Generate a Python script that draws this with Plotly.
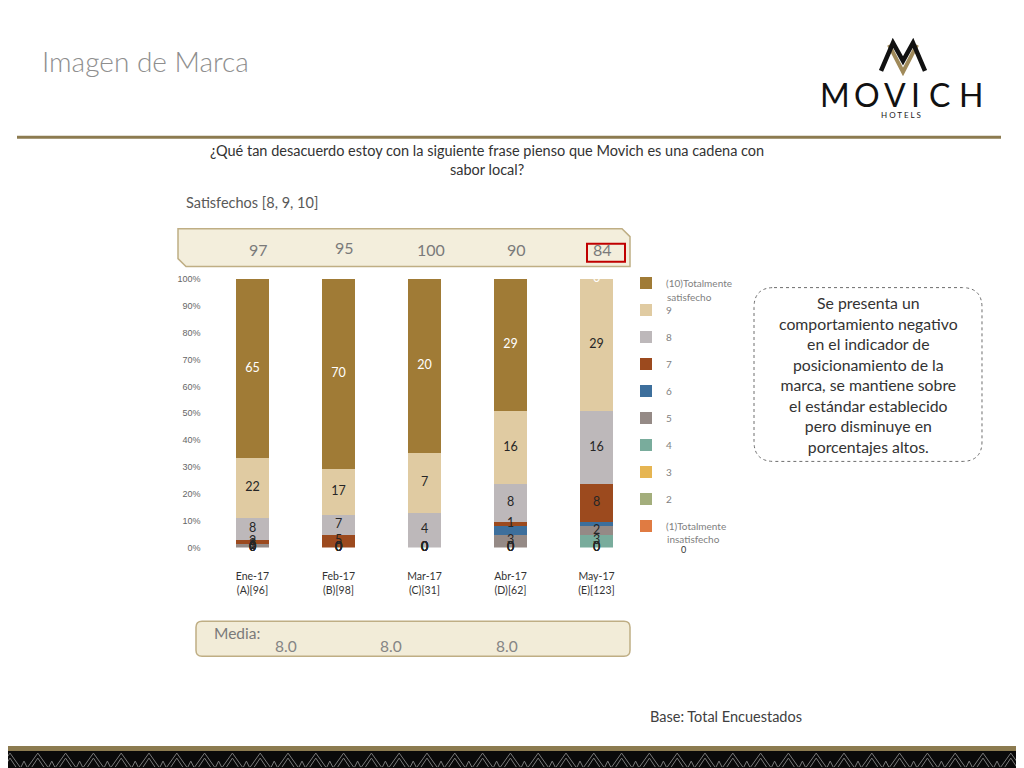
import plotly.graph_objects as go

# page body has an 8px margin; the photographed page is also slightly
# compressed vertically, so slide coordinates are mapped accordingly
OFF = 8
W, H = 1024 - OFF, 765


def px(x):
    return (x - OFF) / W


def py(y):
    return 1 - ((y - 4.2) / 0.988 - OFF) / H


# ---------------- data ----------------
months = ["Ene-17<br>(A)[96]", "Feb-17<br>(B)[98]", "Mar-17<br>(C)[31]",
          "Abr-17<br>(D)[62]", "May-17<br>(E)[123]"]

level_names = ["(1)Totalmente", "2", "3", "4", "5", "6", "7", "8", "9", "(10)Totalmente"]
level_name_2nd_line = {0: "insatisfecho", 9: "satisfecho"}
level_colors = ["#E07B42", "#A3AE7C", "#E6B552", "#79AC9C", "#958A86", "#3D6F9C",
                "#9C4A1E", "#BDB8BA", "#E0CBA2", "#A07B36"]

# segment heights (share of bar, %) bottom (1) to top (10)
lvl1 = [0, 0, 0, 0, 0]
lvl2 = [0, 0, 0, 0, 0]
lvl3 = [0, 0, 0, 0, 0]
lvl4 = [0, 0, 0, 0, 4.8]
lvl5 = [1.2, 0, 0, 4.8, 3.2]
lvl6 = [0, 0, 0, 3.2, 1.6]
lvl7 = [1.7, 4.8, 0, 1.6, 14.1]
lvl8 = [8.0, 7.2, 12.9, 14.1, 27.0]
lvl9 = [22.4, 17.3, 22.3, 27.0, 49.2]
lvl10 = [66.5, 70.6, 64.8, 49.2, 0]
heights = [lvl1, lvl2, lvl3, lvl4, lvl5, lvl6, lvl7, lvl8, lvl9, lvl10]

# data labels printed on the segments
lab1 = ["0", "0", "0", "0", "0"]
lab2 = ["0", "0", "0", "0", "0"]
lab3 = ["0", "0", "0", "0", "0"]
lab4 = ["0", "0", "0", "0", "3"]
lab5 = ["1", "0", "0", "3", "2"]
lab6 = ["3", "0", "0", "", ""]
lab7 = ["2", "5", "0", "1", "8"]
lab8 = ["8", "7", "4", "8", "16"]
lab9 = ["22", "17", "7", "16", "29"]
lab10 = ["65", "70", "20", "29", "0"]
labels = [lab1, lab2, lab3, lab4, lab5, lab6, lab7, lab8, lab9, lab10]

satisfechos = ["97", "95", "100", "90", "84"]
media = ["8.0", "8.0", "8.0"]
y_ticks = [0, 10, 20, 30, 40, 50, 60, 70, 80, 90, 100]
y_ticktext = ["%d%%" % v for v in y_ticks]

callout = ("Se presenta un<br>comportamiento negativo<br>en el indicador de<br>"
           "posicionamiento de la<br>marca, se mantiene sobre<br>el estándar establecido<br>"
           "pero disminuye en<br>porcentajes altos.")

FONT = "Lato"

fig = go.Figure()

for i in range(10):
    fig.add_trace(go.Bar(
        x=months, y=heights[i], name=level_names[i],
        marker=dict(color=level_colors[i], line=dict(width=0)),
        legendgroup="g%d" % i, legendrank=10 - i, textposition="none", hoverinfo="skip"))

# labels at segment midpoints
tx, ty, tt, tc = [], [], [], []
for m in range(len(months)):
    base = 0
    for i in range(10):
        h = heights[i][m]
        if labels[i][m] != "":
            tx.append(months[m])
            ty.append(base + h / 2)
            tt.append(labels[i][m])
            tc.append("#FFFFFF" if i == 9 else "#262626")
        base += h
fig.add_trace(go.Scatter(x=tx, y=ty, text=tt, mode="text", showlegend=False,
                         textfont=dict(family=FONT, size=12.5, color=tc),
                         cliponaxis=False, hoverinfo="skip"))

shapes = []
ann = []

# gold header rule
shapes.append(dict(type="line", xref="paper", yref="paper", x0=px(17), x1=px(1001), y0=py(136.5),
                   y1=py(136.5), line=dict(color="#8C7B50", width=3)))
# bottom gold line and black band
shapes.append(dict(type="rect", xref="paper", yref="paper", x0=0, x1=1, y0=py(751), y1=py(746),
                   fillcolor="#8C7B50", line=dict(width=0), layer="above"))
shapes.append(dict(type="rect", xref="paper", yref="paper", x0=0, x1=1, y0=0, y1=py(751),
                   fillcolor="#0A0A0A", line=dict(width=0), layer="above"))
p = ""
for k in range(0, 38):
    x0 = k * 27.8
    p += "M%.5f,%.5f L%.5f,%.5f L%.5f,%.5f " % (px(x0), py(767), px(x0 + 10), py(753), px(x0 + 20), py(767))
    p += "M%.5f,%.5f L%.5f,%.5f L%.5f,%.5f " % (px(x0 + 4), py(767), px(x0 + 10), py(758), px(x0 + 16), py(767))
    p += "M%.5f,%.5f L%.5f,%.5f L%.5f,%.5f " % (px(x0 + 21), py(767), px(x0 + 24), py(761), px(x0 + 27), py(767))
shapes.append(dict(type="path", xref="paper", yref="paper", path=p,
                   line=dict(color="#7A7A7A", width=1), layer="above"))

# top banner (Satisfechos values)
bp = "M%f,%f L%f,%f L%f,%f L%f,%f L%f,%f L%f,%f Z" % (
    px(178), py(228), px(622), py(228), px(630), py(236), px(630), py(266),
    px(186), py(266), px(178), py(258))
shapes.append(dict(type="path", xref="paper", yref="paper", path=bp, fillcolor="#F3EEDC",
                   line=dict(color="#BFAE84", width=1.5), layer="below"))
# red highlight box
shapes.append(dict(type="rect", xref="paper", yref="paper", x0=px(587), x1=px(625), y0=py(261),
                   y1=py(243), line=dict(color="#C00000", width=2)))


def rounded(x0, y0, x1, y1, r):
    return ("M%f,%f L%f,%f Q%f,%f %f,%f L%f,%f Q%f,%f %f,%f L%f,%f Q%f,%f %f,%f L%f,%f Q%f,%f %f,%f Z" % (
        px(x0 + r), py(y0), px(x1 - r), py(y0), px(x1), py(y0), px(x1), py(y0 + r),
        px(x1), py(y1 - r), px(x1), py(y1), px(x1 - r), py(y1),
        px(x0 + r), py(y1), px(x0), py(y1), px(x0), py(y1 - r),
        px(x0), py(y0 + r), px(x0), py(y0), px(x0 + r), py(y0)))


# media banner
shapes.append(dict(type="path", xref="paper", yref="paper", path=rounded(196, 621, 630, 656, 6),
                   fillcolor="#F2ECD8", line=dict(color="#BFAE84", width=1.5), layer="below"))
# callout box
shapes.append(dict(type="path", xref="paper", yref="paper", path=rounded(754, 287, 982, 461, 20),
                   fillcolor="rgba(0,0,0,0)", line=dict(color="#6E6E6E", width=1, dash="dot")))

# logo emblem
shapes.append(dict(type="path", xref="paper", yref="paper",
                   path="M%f,%f L%f,%f L%f,%f" % (px(889), py(44), px(903), py(71), px(917), py(44)),
                   line=dict(color="#A08A5A", width=4)))
shapes.append(dict(type="path", xref="paper", yref="paper",
                   path="M%f,%f L%f,%f L%f,%f L%f,%f L%f,%f" % (
                       px(881), py(70), px(893), py(42), px(903), py(60), px(913), py(42), px(925), py(70)),
                   line=dict(color="#111111", width=4.5)))

logo_letters = ["M", "O", "V", "I", "C", "H"]
logo_x = [835, 867, 895, 915.5, 939, 971]
for L, xx in zip(logo_letters, logo_x):
    ann.append(dict(xref="paper", yref="paper", x=px(xx), y=py(94), text=L, showarrow=False,
                    xanchor="center", yanchor="middle",
                    font=dict(family=FONT, size=32, color="#111111")))
ann.append(dict(xref="paper", yref="paper", x=px(901), y=py(114), text="H O T E L S", showarrow=False,
                xanchor="center", yanchor="middle", font=dict(family=FONT, size=8, color="#222222")))

# titles and texts
ann.append(dict(xref="paper", yref="paper", x=px(40), y=py(60), text="Imagen de Marca", showarrow=False,
                xanchor="left", yanchor="middle", font=dict(family=FONT, size=28, color="#8E8E8E", weight=300)))
ann.append(dict(xref="paper", yref="paper", x=px(487), y=py(159),
                text="¿Qué tan desacuerdo estoy con la siguiente frase pienso que Movich es una cadena con<br>sabor local?",
                showarrow=False, xanchor="center", yanchor="middle", align="center",
                font=dict(family=FONT, size=14.5, color="#333333")))
ann.append(dict(xref="paper", yref="paper", x=px(184), y=py(202), text="Satisfechos [8, 9, 10]",
                showarrow=False, xanchor="left", yanchor="middle",
                font=dict(family=FONT, size=14.5, color="#595959")))
sat_dy = [0, -2, 0, 0, 0]
for m, s in enumerate(satisfechos):
    ann.append(dict(xref="x", yref="paper", x=months[m], y=py(249 + sat_dy[m]), text=s, showarrow=False,
                    xanchor="center", yanchor="middle", xshift=6,
                    font=dict(family=FONT, size=16, color="#7A7A7A")))
ann.append(dict(xref="paper", yref="paper", x=px(212), y=py(633), text="Media:", showarrow=False,
                xanchor="left", yanchor="middle", font=dict(family=FONT, size=15.5, color="#7A7A7A")))
media_x = [286, 391, 507]
for v, xx in zip(media, media_x):
    ann.append(dict(xref="paper", yref="paper", x=px(xx), y=py(646), text=v, showarrow=False,
                    xanchor="center", yanchor="middle", font=dict(family=FONT, size=15.5, color="#858585")))
ann.append(dict(xref="paper", yref="paper", x=px(868), y=py(374), text=callout, showarrow=False,
                xanchor="center", yanchor="middle", align="center",
                font=dict(family=FONT, size=15.8, color="#333333")))
ann.append(dict(xref="paper", yref="paper", x=px(648), y=py(716), text="Base: Total Encuestados",
                showarrow=False, xanchor="left", yanchor="middle",
                font=dict(family=FONT, size=14.5, color="#404040")))
# second lines of the two long legend entries
ann.append(dict(xref="paper", yref="paper", x=px(665), y=py(296), text=level_name_2nd_line[9],
                showarrow=False, xanchor="left", yanchor="middle",
                font=dict(family=FONT, size=10, color="#7F7F7F")))
ann.append(dict(xref="paper", yref="paper", x=px(665), y=py(539), text=level_name_2nd_line[0],
                showarrow=False, xanchor="left", yanchor="middle",
                font=dict(family=FONT, size=10, color="#7F7F7F")))
ann.append(dict(xref="paper", yref="paper", x=px(683), y=py(549), text="0", showarrow=False,
                xanchor="center", yanchor="middle", font=dict(family=FONT, size=9, color="#333333")))

fig.update_layout(
    width=W, height=H, autosize=False,
    margin=dict(l=0, r=0, t=0, b=0),
    paper_bgcolor="white", plot_bgcolor="white",
    barmode="stack", bargap=0.605,
    font=dict(family=FONT),
    showlegend=True,
    legend=dict(x=px(626), y=py(268), xanchor="left", yanchor="top",
                traceorder="grouped", tracegroupgap=8, valign="middle",
                font=dict(family=FONT, size=10, color="#7F7F7F"), bgcolor="rgba(0,0,0,0)"),
    xaxis=dict(domain=[px(209.5), px(639.5)], showgrid=False, showline=False, zeroline=False,
               ticks="", tickfont=dict(family=FONT, size=10.5, color="#333333"),
               ticklabelstandoff=21, fixedrange=True),
    yaxis=dict(domain=[py(547.3), py(278.3)], range=[0, 100], tickvals=y_ticks, ticktext=y_ticktext,
               showgrid=False, showline=False, zeroline=False, ticks="", ticklabelstandoff=8,
               tickfont=dict(family="Liberation Sans", size=9, color="#666666"), fixedrange=True),
    shapes=shapes, annotations=ann,
)

fig.write_html("out.html")
